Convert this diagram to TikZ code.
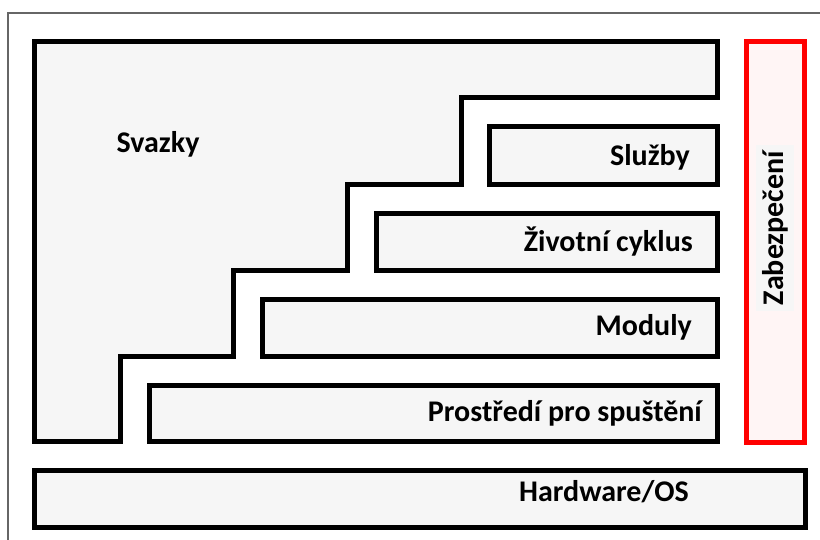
\documentclass[tikz,border=0pt]{standalone}
\usepackage{fontspec}
\setmainfont{Carlito}
\definecolor{boxfill}{HTML}{F6F6F6}
\definecolor{redfill}{HTML}{FFF5F5}
\definecolor{redline}{HTML}{FF0000}
\begin{document}
\begin{tikzpicture}[x=1pt,y=-1pt,
  layer/.style={draw=black,line width=5pt,fill=boxfill,line join=miter},
  seclayer/.style={draw=redline,line width=5pt,fill=redfill},
  lbl/.style={font=\fontsize{30}{34}\selectfont\bfseries,inner sep=0pt},
  frame/.style={draw=gray!80!black,line width=1.5pt}]
\useasboundingbox (0,0) rectangle (820,540);
\fill[white] (0,0) rectangle (820,540);
\draw[frame] (821,13) -- (8,13) -- (8,541);
% Svazky staircase
\draw[layer] (34,42) -- (717,42) -- (717,98) -- (461,98) -- (461,185) -- (347.5,185) -- (347.5,271) -- (233.5,271) -- (233.5,356) -- (120,356) -- (120,441) -- (34,441) -- cycle;
\draw[layer] (489,127) rectangle (717,185);
\draw[layer] (376,213.5) rectangle (717,270.5);
\draw[layer] (262,299.5) rectangle (717,356);
\draw[layer] (149,385) rectangle (717,441);
\draw[layer] (34,470) rectangle (805,527);
\draw[seclayer] (746,42) rectangle (804,442);
\node[lbl] (svazky) at (158,144) {Svazky};
\node[lbl,anchor=east] (sluzby) at (690,157) {Služby};
\node[lbl,anchor=east] (cyklus) at (693,242) {Životní cyklus};
\node[lbl,anchor=east] (moduly) at (692,327) {Moduly};
\node[lbl,anchor=east] (prostredi) at (702,413) {Prostředí pro spuštění};
\node[lbl] (hw) at (604,492) {Hardware/OS};
\node[lbl,rotate=90,fill=boxfill,inner xsep=6pt,inner ysep=6pt] (zab) at (775,228) {Zabezpečení};
\end{tikzpicture}
\end{document}
